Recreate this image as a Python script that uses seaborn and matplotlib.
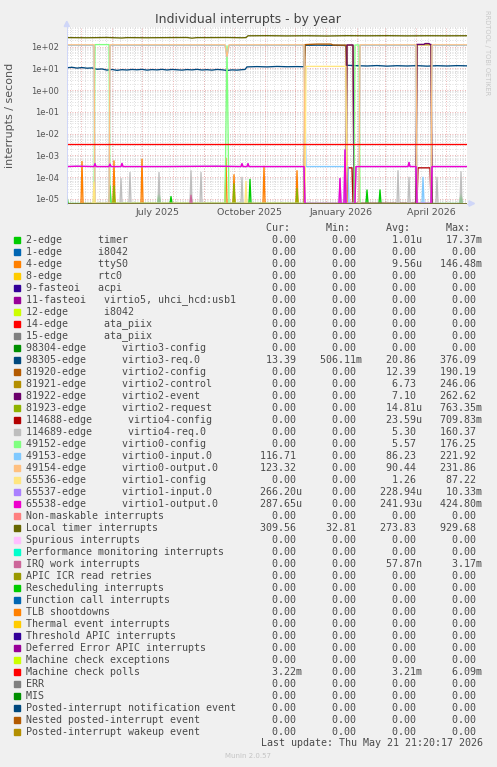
import numpy as np
import pandas as pd
import matplotlib
matplotlib.use("Agg")
import matplotlib.pyplot as plt
import seaborn as sns
from matplotlib.patches import Rectangle, Polygon
from matplotlib.lines import Line2D
from matplotlib.ticker import FixedLocator, FuncFormatter, NullFormatter

W, H = 497, 767
END = pd.Timestamp("2026-05-21 21:20:17")
START = END - pd.Timedelta(days=400)
YMIN, YMAX = 6.2e-6, 850

# legend rows (munin order) and colours
LABELS = [
    "2-edge      timer", "1-edge      i8042", "4-edge      ttyS0", "8-edge      rtc0",
    "9-fasteoi   acpi", "11-fasteoi   virtio5, uhci_hcd:usb1", "12-edge      i8042",
    "14-edge      ata_piix", "15-edge      ata_piix", "98304-edge      virtio3-config",
    "98305-edge      virtio3-req.0", "81920-edge      virtio2-config",
    "81921-edge      virtio2-control", "81922-edge      virtio2-event",
    "81923-edge      virtio2-request", "114688-edge      virtio4-config",
    "114689-edge      virtio4-req.0", "49152-edge      virtio0-config",
    "49153-edge      virtio0-input.0", "49154-edge      virtio0-output.0",
    "65536-edge      virtio1-config", "65537-edge      virtio1-input.0",
    "65538-edge      virtio1-output.0", "Non-maskable interrupts", "Local timer interrupts",
    "Spurious interrupts", "Performance monitoring interrupts", "IRQ work interrupts",
    "APIC ICR read retries", "Rescheduling interrupts", "Function call interrupts",
    "TLB shootdowns", "Thermal event interrupts", "Threshold APIC interrupts",
    "Deferred Error APIC interrupts", "Machine check exceptions", "Machine check polls",
    "ERR", "MIS", "Posted-interrupt notification event", "Nested posted-interrupt event",
    "Posted-interrupt wakeup event",
]
COLORS = [
    "#00CC00", "#0066B3", "#FF8000", "#FFCC00", "#330099", "#990099", "#CCFF00", "#FF0000",
    "#808080", "#008F00", "#00487D", "#B35A00", "#B38F00", "#6B006B", "#8FB300", "#B30000",
    "#BEBEBE", "#80FF80", "#80C9FF", "#FFC080", "#FFE680", "#AA80FF", "#EE00CC", "#FF8080",
    "#666600", "#FFBFFF", "#00FFCC", "#CC6699", "#999900",
    "#00CC00", "#0066B3", "#FF8000", "#FFCC00", "#330099", "#990099", "#CCFF00", "#FF0000",
    "#808080", "#008F00", "#00487D", "#B35A00", "#B38F00",
]
CUR = ["0.00"] * 10 + ["13.39"] + ["0.00"] * 7 + ["116.71", "123.32", "0.00", "266.20u", "287.65u",
       "0.00", "309.56"] + ["0.00"] * 11 + ["3.22m"] + ["0.00"] * 5
MIN = ["0.00"] * 10 + ["506.11m"] + ["0.00"] * 13 + ["32.81"] + ["0.00"] * 17
AVG = ["1.01u", "0.00", "9.56u"] + ["0.00"] * 7 + ["20.86", "12.39", "6.73", "7.10", "14.81u",
       "23.59u", "5.30", "5.57", "86.23", "90.44", "1.26", "228.94u", "241.93u", "0.00",
       "273.83", "0.00", "0.00", "57.87n"] + ["0.00"] * 8 + ["3.21m"] + ["0.00"] * 5
MAX = ["17.37m", "0.00", "146.48m"] + ["0.00"] * 7 + ["376.09", "190.19", "246.06", "262.62",
       "763.35m", "709.83m", "160.37", "176.25", "221.92", "231.86", "87.22", "10.33m",
       "424.80m", "0.00", "929.68", "0.00", "0.00", "3.17m"] + ["0.00"] * 8 + ["6.09m"] + ["0.00"] * 5

# series vertices, x in days since START, values in interrupts/s
timer_days = [0, 43, 92, 104, 183, 300, 313, 394]
timer_vals = [1.4e-5, 4e-5, 2.6e-5, 1.3e-5, 8e-5, 2.6e-5, 2.6e-5, 2e-5]
ttys_days = [15, 47, 75, 159, 167, 197, 230]
ttys_vals = [5.3e-4, 5.7e-4, 6.8e-4, 7.5e-4, 1.3e-4, 3.2e-4, 2e-4]
v2req_days = [47, 167, 230]
v2req_vals = [4e-5, 5e-5, 3e-5]
v4req_days = [54, 63, 92, 124, 134, 175, 331, 342, 370, 394]
v4req_vals = [8.7e-5, 1.66e-4, 1.66e-4, 2e-4, 1.66e-4, 1e-4, 2e-4, 1e-4, 1e-4, 1.8e-4]
irqwork_days = [124]
irqwork_vals = [1.5e-5]

v3req_days = [0, 5, 10, 15, 20, 25, 30, 35, 40, 45, 50, 55, 60, 65, 70, 75, 80, 85, 90, 95,
              100, 105, 110, 115, 120, 125, 130, 135, 140, 145, 150, 155, 160, 165, 170, 175,
              178, 180, 190, 200, 210, 220, 230, 237, 238, 250, 265, 279, 280, 290, 300, 310,
              320, 330, 340, 350, 360, 370, 380, 390, 400]
v3req_vals = [10.8, 11.3, 10.4, 11.0, 10.3, 10.6, 9.2, 9.5, 8.4, 9.0, 8.2, 8.8, 8.5, 9.0, 8.7,
              9.1, 8.4, 8.9, 8.6, 9.1, 8.5, 9.0, 8.7, 8.4, 8.9, 8.6, 9.1, 8.5, 8.8, 8.4, 9.0,
              8.7, 8.1, 8.6, 8.4, 8.8, 9.0, 11.8, 12.2, 11.8, 12.4, 12.0, 12.2, 12.0, 116, 118,
              116, 114, 14.0, 13.4, 13.0, 13.6, 12.8, 13.4, 13.0, 13.5, 12.8, 13.4, 13.0, 13.5,
              13.2]
v2cfg_days = [237, 238, 250, 264, 266, 279, 280]
v2cfg_vals = [0, 125, 132, 132, 120, 118, 0]
v2ctl_days = [279, 280, 286, 287, 349, 350, 364, 365]
v2ctl_vals = [0, 118, 118, 0, 0, 122, 122, 0]
v2evt_days = [279, 280, 286, 287, 349, 350, 357, 358, 362, 363, 364, 365]
v2evt_vals = [0, 120, 120, 0, 0, 128, 128, 140, 140, 128, 128, 0]
v4cfg_days = [280, 281, 285, 286, 350, 351, 363, 364]
v4cfg_vals = [0, 2.7e-4, 2.7e-4, 0, 0, 2.7e-4, 2.7e-4, 0]
v0cfg_days = [27, 28, 42, 43, 158, 160, 162, 287, 288, 292, 293]
v0cfg_vals = [0, 125, 125, 0, 0, 110, 0, 0, 120, 120, 0]
v0in_days = [0, 27, 28, 42, 43, 158, 160, 162, 237, 239, 281, 282, 292, 293, 349, 350, 355,
             356, 357, 364, 365, 400]
v0in_vals = [115, 115, 0, 0, 115, 115, 35, 115, 115, 3.1e-4, 3.1e-4, 0, 0, 115, 115, 0, 0,
             1e-4, 0, 0, 115, 115]
v0out_days = [0, 27, 28, 42, 43, 158, 160, 162, 237, 238, 292, 293, 349, 350, 364, 365, 400]
v0out_vals = [122, 122, 0, 0, 122, 122, 35, 122, 122, 0, 0, 122, 122, 0, 0, 122, 122]
v1cfg_days = [26, 27, 28, 178, 179, 180, 238, 239, 279, 280]
v1cfg_vals = [0, 6e-5, 0, 0, 6.5e-5, 0, 0, 12.5, 12.5, 0]
v1out_days = [0, 10, 27, 28, 29, 42, 43, 44, 54, 55, 56, 100, 150, 174, 175, 176, 180, 181,
              182, 237, 238, 272, 273, 274, 277, 278, 279, 288, 289, 341, 342, 343, 349, 350,
              364, 365, 400]
v1out_vals = [3.1e-4, 3.2e-4, 3.1e-4, 4.2e-4, 3.1e-4, 3.1e-4, 4e-4, 3.1e-4, 3.1e-4, 4.3e-4,
              3.1e-4, 3.1e-4, 3.2e-4, 3.1e-4, 4.2e-4, 3.1e-4, 3.1e-4, 4.2e-4, 3.1e-4, 3.1e-4,
              0, 0, 8.7e-5, 0, 0, 1.8e-3, 0, 0, 3.1e-4, 3.1e-4, 4.8e-4, 3.1e-4, 3.1e-4, 0, 0,
              3.1e-4, 3.1e-4]
ltimer_days = [0, 20, 40, 55, 60, 80, 100, 120, 125, 130, 140, 160, 175, 179, 181, 200, 220,
               240, 260, 280, 300, 320, 340, 360, 380, 400]
ltimer_vals = [262, 258, 265, 252, 262, 258, 262, 265, 248, 262, 262, 265, 258, 262, 318, 322,
               315, 320, 312, 322, 318, 322, 316, 320, 318, 320]
mcp_days = [0, 400]
mcp_vals = [3.4e-3, 3.4e-3]


def spikes(days, vals):
    xs, ys = [], []
    for d, v in zip(days, vals):
        xs += [d - 1, d, d + 1]
        ys += [0, v, 0]
    return xs, ys


series = {
    LABELS[0]: spikes(timer_days, timer_vals),
    LABELS[2]: spikes(ttys_days, ttys_vals),
    LABELS[10]: (v3req_days, v3req_vals),
    LABELS[11]: (v2cfg_days, v2cfg_vals),
    LABELS[12]: (v2ctl_days, v2ctl_vals),
    LABELS[13]: (v2evt_days, v2evt_vals),
    LABELS[14]: spikes(v2req_days, v2req_vals),
    LABELS[15]: (v4cfg_days, v4cfg_vals),
    LABELS[16]: spikes(v4req_days, v4req_vals),
    LABELS[17]: (v0cfg_days, v0cfg_vals),
    LABELS[18]: (v0in_days, v0in_vals),
    LABELS[19]: (v0out_days, v0out_vals),
    LABELS[20]: (v1cfg_days, v1cfg_vals),
    LABELS[21]: (v1out_days, v1out_vals),
    LABELS[22]: (v1out_days, v1out_vals),
    LABELS[24]: (ltimer_days, ltimer_vals),
    LABELS[27]: spikes(irqwork_days, irqwork_vals),
    LABELS[36]: (mcp_days, mcp_vals),
}

frames = []
for name in LABELS:
    xs, ys = series.get(name, ([0, 400], [0, 0]))
    frames.append(pd.DataFrame({"day": xs, "value": ys, "series": name}))
df = pd.concat(frames, ignore_index=True)
# rrdtool puts zero on a log scale at the bottom edge
df["plot_value"] = df["value"].clip(lower=YMIN)

fig = plt.figure(figsize=(W / 100, H / 100), dpi=100, facecolor="#F0F0F0")
ax = fig.add_axes([67 / W, 1 - 203.5 / H, 400 / W, 177 / H])
ax.set_facecolor("white")

# grid
month_starts = pd.date_range("2025-05-01", END, freq="MS")
weeks = pd.date_range(START.normalize(), END, freq="W-MON")
for t in weeks:
    ax.axvline((t - START) / pd.Timedelta(days=1), color="#d2d2d2", lw=0.6,
               ls=(0, (1, 2)), zorder=0.5)
for t in month_starts:
    ax.axvline((t - START) / pd.Timedelta(days=1), color="#e69a9a", lw=0.6,
               ls=(0, (1, 2)), zorder=0.6)

sns.lineplot(data=df, x="day", y="plot_value", hue="series", hue_order=LABELS,
             palette=dict(zip(LABELS, COLORS)), estimator=None, sort=False,
             legend=False, linewidth=0.95, ax=ax)

ax.set_yscale("log")
ax.set_ylim(YMIN, YMAX)
ax.set_xlim(0, 400)
ax.yaxis.set_major_locator(FixedLocator([10.0 ** e for e in range(-5, 3)]))
ax.yaxis.set_major_formatter(FuncFormatter(lambda v, p: f"{v:.0e}"))
ax.yaxis.set_minor_locator(FixedLocator([m * 10.0 ** e for e in range(-6, 3) for m in range(2, 10)]))
ax.yaxis.set_minor_formatter(NullFormatter())
ax.grid(which="minor", axis="y", color="#d2d2d2", lw=0.6, ls=(0, (1, 2)))
ax.grid(which="major", axis="y", color="#e69a9a", lw=0.6, ls=(0, (1, 2)))
ax.set_axisbelow(True)

label_months = pd.to_datetime(["2025-07-01", "2025-10-01", "2026-01-01", "2026-04-01"])
ax.set_xticks([(t + pd.Timedelta(days=15) - START) / pd.Timedelta(days=1) for t in label_months])
ax.set_xticklabels([t.strftime("%B %Y") for t in label_months])
ax.tick_params(axis="x", length=0, pad=3.5, labelsize=6.8, labelcolor="#555555")
ax.tick_params(axis="y", which="both", length=0, pad=5.5, labelsize=6.0, labelcolor="#555555")
ax.set_xlabel("")
ax.set_ylabel("")
for s in ["top", "right", "bottom"]:
    ax.spines[s].set_visible(False)
ax.spines["left"].set_color("#CFD6F8")
ax.spines["left"].set_linewidth(0.7)


def fx(x):
    return x / W


def fy(y):
    return 1 - y / H


# axis arrows
fig.add_artist(Line2D([fx(467), fx(470)], [fy(203.5), fy(203.5)], color="#CFD6F8", lw=0.7))
fig.add_artist(Polygon([(fx(66.8), fy(21.3)), (fx(64.2), fy(26.5)), (fx(69.4), fy(26.5))],
                       closed=True, color="#CFD6F8", transform=fig.transFigure))
fig.add_artist(Polygon([(fx(474.5), fy(203.5)), (fx(469), fy(200.8)), (fx(469), fy(206.2))],
                       closed=True, color="#CFD6F8", transform=fig.transFigure))

fig.text(fx(248), fy(20), "Individual interrupts - by year", ha="center", va="center",
         fontsize=9, color="#444444")
fig.text(fx(10), fy(115), "interrupts / second", ha="center", va="center", rotation=90,
         fontsize=8, color="#555555")
fig.text(fx(487), fy(53), "RRDTOOL / TOBI OETIKER", ha="center", va="center", rotation=270,
         fontsize=4.8, color="#c8c8c8")

# legend table
MONO = "DejaVu Sans Mono"
FS = 7.18


def field(v):
    return (v if v[-1].isalpha() else v + " ").rjust(10)


fig.text(fx(26.3), fy(228), " " * 40 + "Cur:" + " " * 6 + "Min:" + " " * 6 + "Avg:" + " " * 6 + "Max:",
         ha="left", va="center", family=MONO, fontsize=FS, color="#4a4a4a")
for i, name in enumerate(LABELS):
    y = 240 + 12 * i
    fig.add_artist(Rectangle((fx(14.2), fy(y + 3)), 6 / W, 6 / H, color=COLORS[i],
                             transform=fig.transFigure))
    row = name.ljust(36) + field(CUR[i]) + field(MIN[i]) + field(AVG[i]) + field(MAX[i])
    fig.text(fx(26.3), fy(y), row, ha="left", va="center", family=MONO, fontsize=FS,
             color="#4a4a4a")
fig.text(fx(482.7), fy(743.3), "Last update: Thu May 21 21:20:17 2026", ha="right",
         va="center", family=MONO, fontsize=FS, color="#4a4a4a")
fig.text(fx(248), fy(756), "Munin 2.0.57", ha="center", va="center", fontsize=5,
         color="#c4c4c4")

fig.savefig("out.png", dpi=100, facecolor=fig.get_facecolor())
